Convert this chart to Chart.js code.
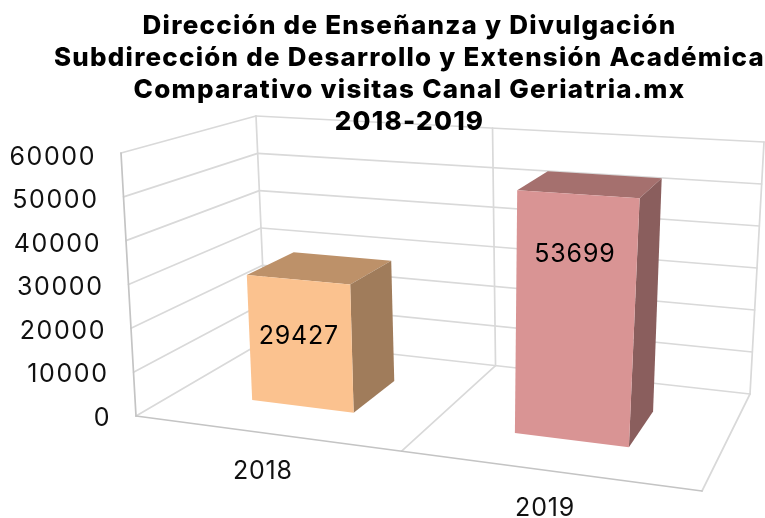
<!DOCTYPE html>
<html><head><meta charset="utf-8">
<style>html,body{margin:0;padding:0;background:#fff}canvas{display:block}</style>
<script src="https://cdn.jsdelivr.net/npm/chart.js@4"></script></head>
<body><canvas id="c" width="765" height="518"></canvas>
<script>
const titleLines = ["Dirección de Enseñanza y Divulgación","Subdirección de Desarrollo y Extensión Académica","Comparativo visitas Canal Geriatria.mx","2018-2019"];
const categories = ["2018","2019"];
const visits = [29427,53699];
const barColors = ["#FBC28F","#D99494"];
const topColors = ["#BD9169","#A5706E"];
const sideColors = ["#A07C5B","#8A5E5D"];
const yTicks = {min:0,max:60000,stepSize:10000};

// view of the 3D box: corner pixels of the floor and ceiling (front-left, front-right, back-right, back-left)
const floorQuad = [[136,416],[702,491],[750,394],[266,340]];
const ceilQuad  = [[121,153],[726,192],[764,142],[256,116]];
const depthFront = 0.295, depthBack = 0.68;
const FONT = "Inter, 'Open Sans', sans-serif";

function homography(q){
  const [[x0,y0],[x1,y1],[x2,y2],[x3,y3]] = q;
  const dx1=x1-x2,dx2=x3-x2,sx=x0-x1+x2-x3,dy1=y1-y2,dy2=y3-y2,sy=y0-y1+y2-y3;
  const det=dx1*dy2-dx2*dy1;
  const g=(sx*dy2-dx2*sy)/det,h=(dx1*sy-sx*dy1)/det;
  const a=x1-x0+g*x1,b=x3-x0+h*x3,d=y1-y0+g*y1,e=y3-y0+h*y3;
  return (u,w)=>{const k=g*u+h*w+1;return [(a*u+b*w+x0)/k,(d*u+e*w+y0)/k];};
}
const floorH=homography(floorQuad), ceilH=homography(ceilQuad);
function P(u,v,w){const f=floorH(u,w),c=ceilH(u,w);return [f[0]+(c[0]-f[0])*v,f[1]+(c[1]-f[1])*v];}
function line(ctx,a,b,col,lw){ctx.strokeStyle=col;ctx.lineWidth=lw;ctx.beginPath();ctx.moveTo(a[0],a[1]);ctx.lineTo(b[0],b[1]);ctx.stroke();}
function poly(ctx,pts,col){ctx.fillStyle=col;ctx.beginPath();pts.forEach((p,i)=>i?ctx.lineTo(p[0],p[1]):ctx.moveTo(p[0],p[1]));ctx.closePath();ctx.fill();}
const vOf=(s,val)=>(s.bottom-s.getPixelForValue(val))/(s.bottom-s.top);

const box3d={id:'box3d',
  beforeDraw(chart){
    const ctx=chart.ctx,y=chart.scales.y,G='#d9d9d9',A='#c4c4c4',LW=1.7;
    ctx.save();ctx.lineCap='round';
    y.ticks.forEach(t=>{
      const v=vOf(y,t.value);
      line(ctx,P(0,v,0),P(0,v,1),G,LW);
      line(ctx,P(0,v,1),P(1,v,1),G,LW);
    });
    [0,0.5,1].forEach(u=>line(ctx,P(u,0,1),P(u,1,1),G,LW));
    line(ctx,P(0.5,0,0),P(0.5,0,1),G,LW);
    line(ctx,P(1,0,0),P(1,0,1),G,LW);
    line(ctx,P(0,0,0),P(0,1,0),A,LW);
    line(ctx,P(0,0,0),P(1,0,0),A,LW);
    ctx.restore();
    ctx.letterSpacing='1.25px';
  },
  beforeDatasetsDraw(chart){
    const ctx=chart.ctx,a=chart.chartArea,y=chart.scales.y,W=a.right-a.left;
    ctx.letterSpacing='0.8px';
    chart.getDatasetMeta(0).data.forEach((bar,i)=>{
      const u0=(bar.x-bar.width/2-a.left)/W,u1=(bar.x+bar.width/2-a.left)/W;
      const v=vOf(y,visits[i]),w0=depthFront,w1=depthBack;
      poly(ctx,[P(u0,v,w0),P(u1,v,w0),P(u1,v,w1),P(u0,v,w1)],topColors[i]);
      poly(ctx,[P(u1,0,w0),P(u1,0,w1),P(u1,v,w1),P(u1,v,w0)],sideColors[i]);
      poly(ctx,[P(u0,0,w0),P(u1,0,w0),P(u1,v,w0),P(u0,v,w0)],bar.options.backgroundColor);
      const lv=vOf(y,visits[i]-13000),c=P((u0+u1)/2,lv,w0);
      ctx.fillStyle='#000';ctx.font="400 25px "+FONT;ctx.textAlign='center';ctx.textBaseline='middle';
      ctx.fillText(String(visits[i]),c[0]-1,c[1]+1);
    });
    const x=chart.scales.x;
    ctx.fillStyle='#111';ctx.font="400 25px "+FONT;
    ctx.textAlign='center';ctx.textBaseline='middle';
    chart.data.labels.forEach((l,i)=>{const u=(x.getPixelForValue(i)-a.left)/W,p=P(u,0,0);ctx.fillText(l,p[0]-2,p[1]+38);});
    ctx.letterSpacing='1.6px';
    ctx.textAlign='right';
    y.ticks.forEach(t=>{const v=vOf(y,t.value),p=P(0,v,0);ctx.fillText(t.label,p[0]-25,p[1]+2+2*v);});
    ctx.letterSpacing='0px';
    return false;
  }
};

new Chart(document.getElementById('c'),{
  type:'bar',
  data:{labels:categories,datasets:[{data:visits,backgroundColor:barColors,barPercentage:0.4,categoryPercentage:1}]},
  plugins:[box3d],
  options:{responsive:false,animation:false,
    layout:{padding:{left:54,top:10}},
    plugins:{legend:{display:false},tooltip:{enabled:false},
      title:{display:true,text:titleLines,color:'#000',padding:0,font:{family:FONT,size:26,weight:'800',lineHeight:1.23}}},
    scales:{
      x:{display:false},
      y:{display:false,min:yTicks.min,max:yTicks.max,ticks:{stepSize:yTicks.stepSize,callback:v=>String(v)}}
    }}
});
</script></body></html>
